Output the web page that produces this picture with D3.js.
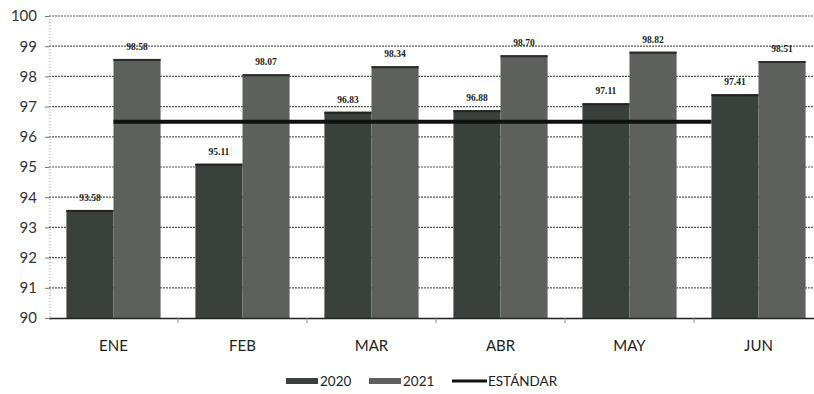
<!DOCTYPE html>
<html>
<head>
<meta charset="utf-8">
<script src="https://cdn.jsdelivr.net/npm/d3@7/dist/d3.min.js"></script>
<style>
  html, body { margin: 0; padding: 0; background: #fff; }
  svg { display: block; }
</style>
</head>
<body>
<svg id="chart" width="814" height="394"></svg>
<script>
// Monthly results 2020 vs 2021 with the target standard
const months = ["ENE", "FEB", "MAR", "ABR", "MAY", "JUN"];
const values2020 = [93.58, 95.11, 96.83, 96.88, 97.11, 97.41];
const values2021 = [98.58, 98.07, 98.34, 98.70, 98.82, 98.51];
const standard = [96.5, 96.5, 96.5, 96.5, 96.5, 96.5];
const labels2020 = ["93.58", "95.11", "96.83", "96.88", "97.11", "97.41"];
const labels2021 = ["98.58", "98.07", "98.34", "98.70", "98.82", "98.51"];
const yTicks = [90, 91, 92, 93, 94, 95, 96, 97, 98, 99, 100];
const seriesNames = ["2020", "2021", "ESTÁNDAR"];

const colors = { s2020: "#3a413d", s2021: "#5e605e", std: "#111111" };

const svg = d3.select("#chart");
const plot = { left: 49, right: 823, top: 16, bottom: 318 };

const x = d3.scaleBand().domain(months).range([plot.left, plot.right]).padding(0);
const groupPad = 0.135;
const xs = d3.scaleBand().domain(["2020", "2021"])
  .range([x.bandwidth() * groupPad, x.bandwidth() * (1 - groupPad)]).padding(0);
const y = d3.scaleLinear().domain([90, 100]).range([plot.bottom, plot.top]);

// Horizontal gridlines
svg.append("g").selectAll("line").data(yTicks.slice(1)).join("line")
  .attr("x1", plot.left).attr("x2", plot.right)
  .attr("y1", d => y(d)).attr("y2", d => y(d))
  .attr("stroke", "#555").attr("stroke-width", 1.2)
  .attr("stroke-dasharray", "2,1");

// Vertical axis line
svg.append("line")
  .attr("x1", plot.left + 1).attr("x2", plot.left + 1)
  .attr("y1", plot.top).attr("y2", plot.bottom + 4)
  .attr("stroke", "#999").attr("stroke-dasharray", "1,2");

// Y axis labels
const yAxis = d3.axisLeft(y).tickValues(yTicks).tickSize(4).tickPadding(8).tickFormat(d3.format("d"));
const gy = svg.append("g").attr("transform", `translate(${plot.left},0)`).call(yAxis);
gy.select(".domain").remove();
gy.selectAll(".tick line").attr("stroke", "#777");
gy.selectAll("text").attr("font-family", "Lato, 'Open Sans', sans-serif")
  .attr("font-size", 15).attr("fill", "#333");

// Bars
const groups = svg.append("g").selectAll("g").data(months).join("g")
  .attr("transform", d => `translate(${x(d)},0)`);

groups.append("rect")
  .attr("x", xs("2020")).attr("width", xs.bandwidth())
  .attr("y", (d, i) => y(values2020[i]))
  .attr("height", (d, i) => y(90) - y(values2020[i]))
  .attr("fill", colors.s2020);

groups.append("rect")
  .attr("x", xs("2021")).attr("width", xs.bandwidth())
  .attr("y", (d, i) => y(values2021[i]))
  .attr("height", (d, i) => y(90) - y(values2021[i]))
  .attr("fill", colors.s2021);

// Dark cap along the top edge of each bar
groups.append("line")
  .attr("x1", xs("2020")).attr("x2", xs("2020") + xs.bandwidth())
  .attr("y1", (d, i) => y(values2020[i]) + 1).attr("y2", (d, i) => y(values2020[i]) + 1)
  .attr("stroke", "#222").attr("stroke-width", 2);
groups.append("line")
  .attr("x1", xs("2021")).attr("x2", xs("2021") + xs.bandwidth())
  .attr("y1", (d, i) => y(values2021[i]) + 1).attr("y2", (d, i) => y(values2021[i]) + 1)
  .attr("stroke", "#2a2a2a").attr("stroke-width", 2);

// Standard line, from the first month centre to the start of the last group
const stdPts = months.map((m, i) => {
  const px = i === months.length - 1 ? x(m) + xs("2020") : x(m) + x.bandwidth() / 2;
  return [px, y(standard[i])];
});
svg.append("path")
  .attr("d", d3.line()(stdPts))
  .attr("fill", "none").attr("stroke", colors.std).attr("stroke-width", 4);

// Value labels
const labelFont = "'Liberation Serif', 'DejaVu Serif', serif";
groups.append("text")
  .attr("x", xs("2020") + xs.bandwidth() / 2)
  .attr("y", (d, i) => y(values2020[i]) - 9)
  .attr("text-anchor", "middle").attr("font-family", labelFont)
  .attr("font-weight", "bold").attr("font-size", 9.5).attr("fill", "#222")
  .text((d, i) => labels2020[i]);

groups.append("text")
  .attr("x", xs("2021") + xs.bandwidth() / 2)
  .attr("y", (d, i) => y(values2021[i]) - 9)
  .attr("text-anchor", "middle").attr("font-family", labelFont)
  .attr("font-weight", "bold").attr("font-size", 9.5).attr("fill", "#222")
  .text((d, i) => labels2021[i]);

// Bottom axis
const xAxis = d3.axisBottom(x).tickSize(0).tickPadding(22);
const gx = svg.append("g").attr("transform", `translate(0,${plot.bottom})`).call(xAxis);
gx.select(".domain").attr("stroke", "#222").attr("stroke-width", 1.5);
gx.selectAll("text").attr("font-family", "Lato, 'Open Sans', sans-serif")
  .attr("font-size", 15).attr("fill", "#222");
// Category separators
svg.append("g").selectAll("line").data(months.slice(1)).join("line")
  .attr("x1", d => x(d)).attr("x2", d => x(d))
  .attr("y1", plot.bottom).attr("y2", plot.bottom + 5)
  .attr("stroke", "#888");

// Legend
const legend = svg.append("g").attr("font-family", "Lato, 'Open Sans', sans-serif")
  .attr("font-size", 13.5).attr("fill", "#222");
const legendItems = [
  { name: seriesNames[0], x: 286, type: "rect", color: colors.s2020 },
  { name: seriesNames[1], x: 369, type: "rect", color: colors.s2021 },
  { name: seriesNames[2], x: 452, type: "line", color: colors.std }
];
const ly = 381;
legendItems.forEach(it => {
  if (it.type === "rect") {
    legend.append("rect").attr("x", it.x).attr("y", ly - 3).attr("width", 32).attr("height", 6).attr("fill", it.color);
  } else {
    legend.append("line").attr("x1", it.x).attr("x2", it.x + 35).attr("y1", ly).attr("y2", ly)
      .attr("stroke", it.color).attr("stroke-width", 3);
  }
  legend.append("text").attr("x", it.x + (it.type === "rect" ? 34 : 36)).attr("y", ly)
    .attr("dy", "0.35em").text(it.name);
});
</script>
</body>
</html>
